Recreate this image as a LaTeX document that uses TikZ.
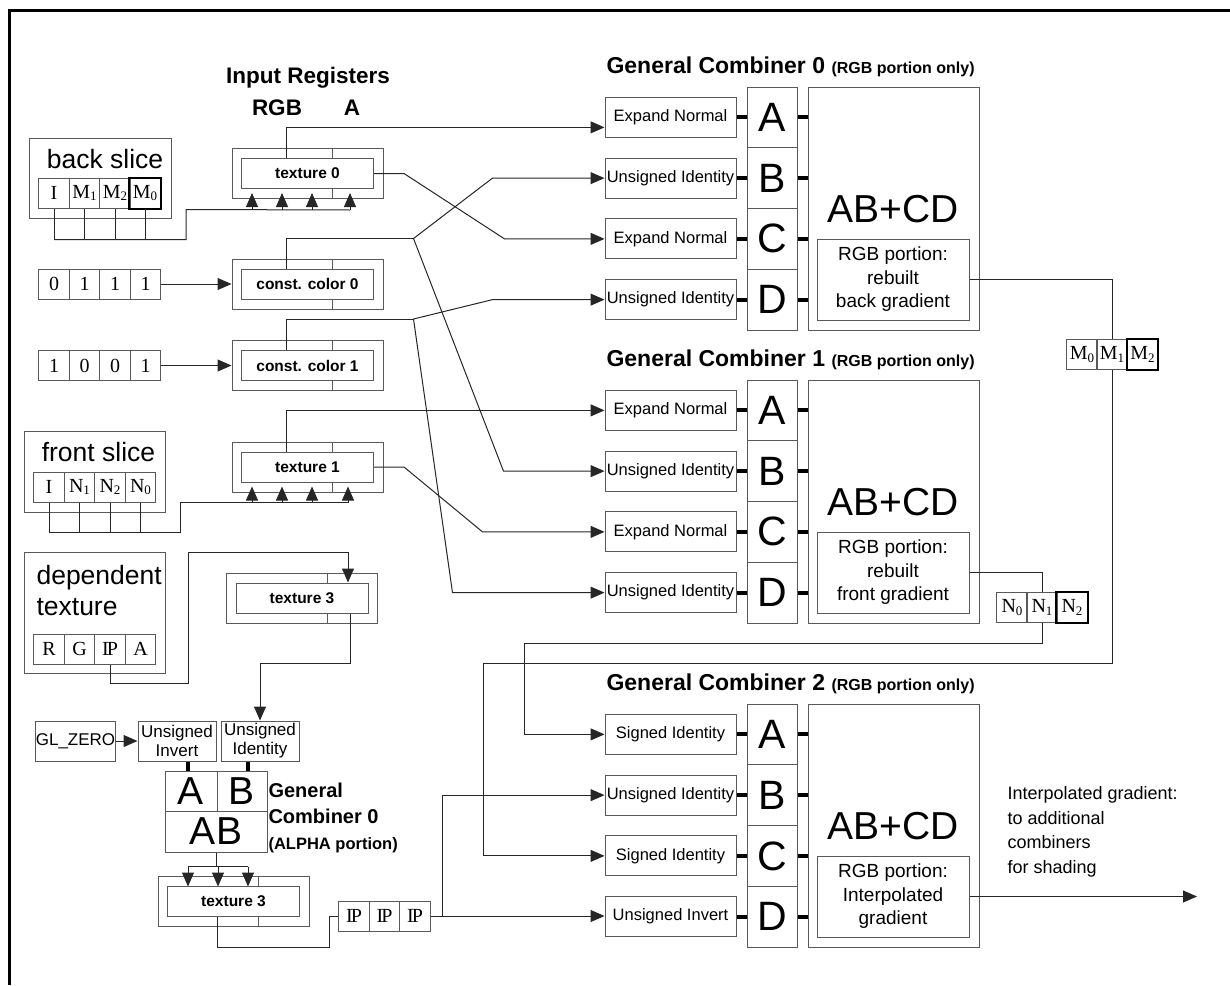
\documentclass[tikz,border=0pt]{standalone}
\usepackage{fontspec}
\setmainfont{Liberation Sans}
\newfontfamily\cellfont{Liberation Serif}
\usetikzlibrary{arrows.meta, positioning}

\newcommand\fsz[1]{\fontsize{#1}{#1}\selectfont}
\newcommand\lowidx[1]{\raisebox{-0.3ex}{\fsz{13}#1}}

\tikzset{
  box/.style={draw=black!65, line width=1pt, inner sep=0pt},
  wire/.style={draw=black!85, line width=1pt},
  stub/.style={draw=black, line width=4pt},
  cell/.style={box, minimum width=30.5pt, minimum height=30pt, font=\cellfont\fsz{20}},
  regout/.style={box, minimum width=151pt, minimum height=50pt},
  regin/.style={box, minimum width=132pt, minimum height=30pt, font=\bfseries\fsz{15.5}},
  func/.style={box, minimum width=131pt, minimum height=40pt, font=\fsz{16.5}},
  letter/.style={box, minimum width=50pt, minimum height=60.75pt, font=\fsz{41}},
  ufunc/.style={box, minimum width=78pt, minimum height=40pt, font=\fontsize{17}{19}\selectfont, align=center},
}

\begin{document}
\begin{tikzpicture}[x=1pt, y=-1pt, >={Triangle[length=14pt,width=12pt]}]
    \useasboundingbox (0,0) rectangle (1230,985);

    % frame
    \draw[line width=3pt] (9,985) -- (9,10) -- (1230,10);

    % Input registers
    \node[font=\bfseries\fsz{22.5}] (regtitle) at (308,78) {Input Registers};
    \node[font=\bfseries\fsz{22.5}] (rgbhead) at (277,108) {RGB};
    \node[font=\bfseries\fsz{22.5}] (ahead) at (352,108) {A};

    \foreach \r/\x/\y/\t in {tex0/307.5/173.5/texture 0, cc0/307.5/284/const. color 0,
                             cc1/307.5/365.5/const. color 1, tex1/307.5/467/texture 1,
                             tex3a/302/598/texture 3, tex3b/233.5/901.5/texture 3} {
        \node[regout] (\r) at (\x,\y) {};
        \node[regin] (\r-in) at (\x,\y) {\t};
        \draw[box] ([xshift=25pt]\r.north) -- ([xshift=25pt]\r-in.north)
                   ([xshift=25pt]\r-in.south) -- ([xshift=25pt]\r.south);
    }

    % back slice
    \node[box, minimum width=142pt, minimum height=80pt] (back) at (100,178) {};
    \node[font=\fsz{26.5}] (backlbl) at (105,159) {back slice};
    \foreach \i/\x/\t in {1/54/I, 2/84.5/M\lowidx{1}, 3/115/M\lowidx{2}, 4/145/M\lowidx{0}}
        \node[cell] (bs\i) at (\x,193) {\t};
    \draw[line width=2pt] (bs4.south west) rectangle (bs4.north east);

    % constant colours
    \foreach \v [count=\i] in {0,1,1,1}
        \node[cell] (ca\i) at ({23.5+30.5*\i},284) {\v};
    \foreach \v [count=\i] in {1,0,0,1}
        \node[cell] (cb\i) at ({23.5+30.5*\i},365.5) {\v};
    \draw[wire,->] (ca4) -- (cc0);
    \draw[wire,->] (cb4) -- (cc1);

    % front slice
    \node[box, minimum width=141pt, minimum height=81pt] (front) at (94.5,471.5) {};
    \node[font=\fsz{26.5}] (frontlbl) at (98.5,452) {front slice};
    \foreach \i/\x/\t in {1/49/I, 2/79.5/N\lowidx{1}, 3/110/N\lowidx{2}, 4/140.5/N\lowidx{0}}
        \node[cell] (fs\i) at (\x,487) {\t};

    % dependent texture
    \node[box, minimum width=141pt, minimum height=121pt] (dep) at (94.5,612.5) {};
    \node[font=\fontsize{26.5}{31}\selectfont, align=left, anchor=west] (deplbl) at (33,591) {dependent\\texture};
    \foreach \i/\x/\t in {1/49/R, 2/79.5/G, 3/110/I\kern-2pt P, 4/140.5/A}
        \node[cell] (dt\i) at (\x,649) {\t};

    % General combiners 0-2 (RGB)
    \foreach \cm/\ty/\fa/\fb/\fc/\fd/\res in {
        0/87/Expand Normal/Unsigned Identity/Expand Normal/Unsigned Identity/{rebuilt\\back gradient},
        1/380/Expand Normal/Unsigned Identity/Expand Normal/Unsigned Identity/{rebuilt\\front gradient},
        2/704/Signed Identity/Unsigned Identity/Signed Identity/Unsigned Invert/{Interpolated\\gradient}} {
        \node[font=\bfseries\fsz{23}, anchor=west] (title\cm) at (603,\ty-20)
            {General Combiner \cm\ {\fsz{16}(RGB portion only)}};
        \node[box, minimum width=171pt, minimum height=243pt] (cmb\cm) at (893.5,\ty+121.5) {};
        \node[font=\fsz{39}] (sum\cm) at (893.5,\ty+122) {AB+CD};
        \node[box, minimum width=152pt, minimum height=81pt, font=\fontsize{19}{23.5}\selectfont,
              align=center] (res\cm) at (893,\ty+192.5) {RGB portion:\\\res};
        \foreach \ltr/\fn [count=\i from 0] in {A/\fa, B/\fb, C/\fc, D/\fd} {
            \node[letter] (l\cm\ltr) at (772,\ty+30.375+60.75*\i) {\ltr};
            \node[func] (f\cm\ltr) at (670.5,\ty+30.375+60.75*\i) {\fn};
            \draw[stub] (f\cm\ltr.east) -- (l\cm\ltr.west)
                        (l\cm\ltr.east) -- (l\cm\ltr.east -| cmb\cm.west);
        }
    }

    % texture 0
    \draw[wire,->] ([xshift=-21pt]tex0-in.north) |- ([yshift=-10pt]f0A.west);
    \draw[wire,->] (tex0-in.east) -- ++(30,0) -- ([xshift=-100pt]f0C.west) -- (f0C.west);

    % const. color 0 / 1
    \draw[wire] ([xshift=-21pt]cc0-in.north) -- ++(0,-30) -- ++(127,0) coordinate (fork0);
    \draw[wire,->] (fork0) -- ([xshift=-112pt]f0B.west) -- (f0B.west);
    \draw[wire,->] (fork0) -- ([xshift=-101pt]f1B.west) -- (f1B.west);
    \draw[wire] ([xshift=-21pt]cc1-in.north) -- ++(0,-31) -- ++(127,0) coordinate (fork1);
    \draw[wire,->] (fork1) -- ([xshift=-112pt]f0D.west) -- (f0D.west);
    \draw[wire,->] (fork1) -- ([xshift=-152pt]f1D.west) -- (f1D.west);

    % texture 1
    \draw[wire,->] ([xshift=-21pt]tex1-in.north) |- (f1A.west);
    \draw[wire,->] (tex1-in.east) -- ++(30,0) -- ([xshift=-122pt]f1C.west) -- (f1C.west);

    % slices into texture 0 / 1
    \foreach \i in {1,...,4} \draw[wire] (bs\i.south) -- ++(0,31);
    \draw[wire] ([yshift=-31pt]bs1.south) -| ++(132,-30) -- ([xshift=42.5pt,yshift=-11pt]tex0.south);
    \foreach \dx in {-55.5,-25.5,4.5,42.5}
        \draw[wire,->] ([xshift=\dx pt,yshift=-11pt]tex0.south) -- ([xshift=\dx pt,yshift=6pt]tex0.south);
    \foreach \i in {1,...,4} \draw[wire] (fs\i.south) -- ++(0,30);
    \draw[wire] ([yshift=-30pt]fs1.south) -| ++(131,-30) -- ([xshift=40.5pt,yshift=-10pt]tex1.south);
    \foreach \dx in {-55.5,-25.5,4.5,40.5}
        \draw[wire,->] ([xshift=\dx pt,yshift=-10pt]tex1.south) -- ([xshift=\dx pt,yshift=6pt]tex1.south);

    % dependent texture -> texture 3
    \draw[wire,->] (dt3.south) -- ++(0,19) -| ++(78,-131) -| ([xshift=46pt]tex3a-in.north);

    % General combiner 0 (ALPHA)
    \node[box, minimum width=79pt, minimum height=40pt, font=\fsz{17}] (glz) at (75.5,741) {GL\_ZERO};
    \node[ufunc] (uinv) at (177,741) {Unsigned\\Invert};
    \node[ufunc] (uid) at (260,741) {Unsigned\\Identity};
    \node[box, minimum width=52pt, minimum height=40pt, font=\fsz{39}] (aA) at (191,791) {A};
    \node[box, minimum width=50pt, minimum height=40pt, font=\fsz{39}] (aB) at (242,791) {B};
    \node[box, minimum width=102pt, minimum height=41pt, font=\fsz{39}] (aAB) at (216,831.5) {AB};
    \node[font=\bfseries\fontsize{20}{26}\selectfont, align=left, anchor=north west] (alphalbl) at (265,779)
        {General\\Combiner 0\\{\fontsize{16.5}{22}\selectfont(ALPHA portion)}};

    \draw[wire,->] ([xshift=48pt]tex3a-in.south) -- ++(0,50) -| (uid.north);
    \draw[wire,->] (glz) -- (uinv);
    \draw[stub] ([xshift=-3pt]aA.north) -- ([xshift=-3pt]aA.north |- uinv.south);
    \draw[stub] ([xshift=6pt]aB.north) -- ([xshift=6pt]aB.north |- uid.south);

    \draw[wire] (aAB.south) -- ++(0,14) coordinate (abfork);
    \draw[wire] ([xshift=-28pt]abfork) -- ([xshift=32pt]abfork);
    \foreach \dx in {-28,2,32}
        \draw[wire,->] ([xshift=\dx pt]abfork) -- ++(0,20);

    % texture 3 -> IP
    \foreach \i/\x in {1/354, 2/384.5, 3/415}
        \node[cell] (ip\i) at (\x,916) {I\kern-2pt P};
    \draw[wire] ([xshift=-16pt]tex3b-in.south) -- ++(0,30) -| ([xshift=-9pt]ip1.west) -- (ip1.west);
    \draw[wire,->] (ip3.east) -- (ip3.east -| f2D.west);
    \draw[wire,->] ([xshift=12pt]ip3.east) |- (f2B.west);

    % rebuilt gradients
    \foreach \i/\x/\t in {1/1082/M\lowidx{0}, 2/1112/M\lowidx{1}, 3/1142.5/M\lowidx{2}}
        \node[cell] (m\i) at (\x,354.5) {\t};
    \draw[line width=2pt] (m3.south west) rectangle (m3.north east);
    \foreach \i/\x/\t in {1/1012/N\lowidx{0}, 2/1042/N\lowidx{1}, 3/1072/N\lowidx{2}}
        \node[cell] (n\i) at (\x,607.5) {\t};
    \draw[line width=2pt] (n3.south west) rectangle (n3.north east);

    \draw[wire] (res0.east) -| (m2.north);
    \draw[wire,->] (m2.south) -- ++(0,293) -| ([xshift=-121pt]f2C.west) -- (f2C.west);
    \draw[wire] (res1.east) -| (n2.north);
    \draw[wire,->] (n2.south) -- ++(0,20) -| ([xshift=-80pt]f2A.west) -- (f2A.west);

    % output
    \coordinate (outg) at (1197,896.5);
    \draw[wire,->] (res2.east) -- (outg);
    \node[font=\fontsize{18}{24.5}\selectfont, align=left, anchor=north west] (outlbl) at (1004,783)
        {Interpolated gradient:\\to additional\\combiners\\for shading};

\end{tikzpicture}
\end{document}
